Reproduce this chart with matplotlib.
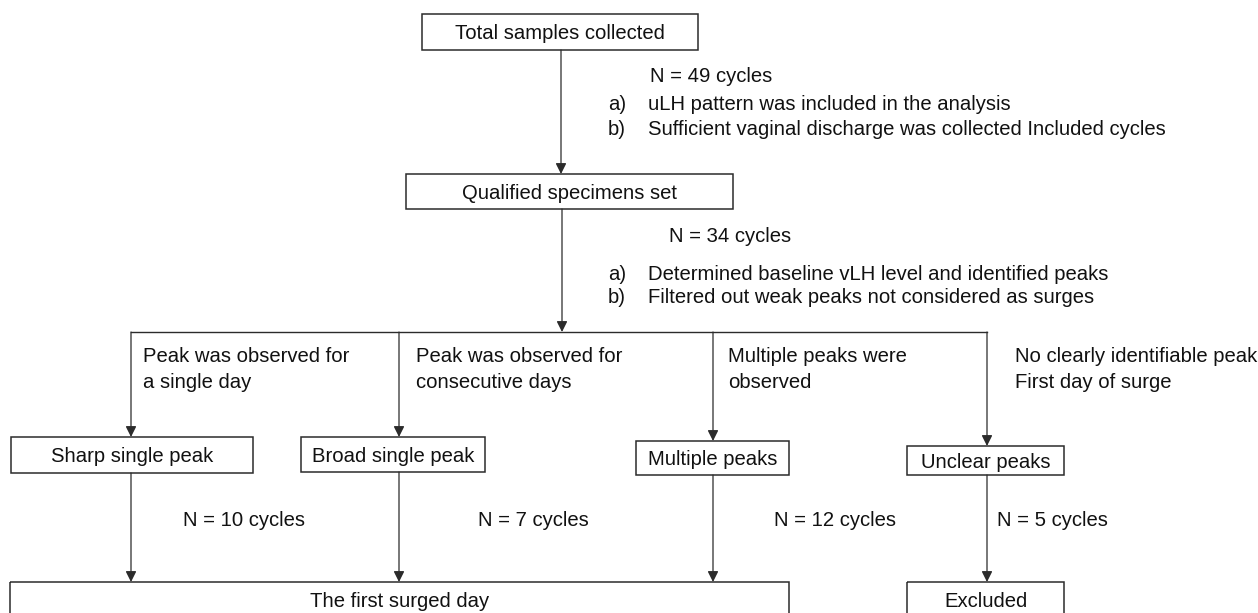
import matplotlib
matplotlib.use('Agg')
from matplotlib import pyplot as plt
from matplotlib.patches import Rectangle

plt.rcParams['font.family'] = ['Liberation Sans', 'DejaVu Sans']

# node labels
top_labels = ['Total samples collected', 'Qualified specimens set']
group_labels = ['Sharp single peak', 'Broad single peak', 'Multiple peaks', 'Unclear peaks']
end_labels = ['The first surged day', 'Excluded']

# step notes
step_counts = ['N = 49 cycles', 'N = 34 cycles']
step_criteria = [
    ['uLH pattern was included in the analysis',
     'Sufficient vaginal discharge was collected Included cycles'],
    ['Determined baseline vLH level and identified peaks',
     'Filtered out weak peaks not considered as surges'],
]
branch_notes = [
    ['Peak was observed for', 'a single day'],
    ['Peak was observed for', 'consecutive days'],
    ['Multiple peaks were', 'observed'],
    ['No clearly identifiable peak', 'First day of surge'],
]
group_counts = ['N = 10 cycles', 'N = 7 cycles', 'N = 12 cycles', 'N = 5 cycles']

# layout (pixel coordinates, y down)
W, H = 1258, 613
LC = '#2b2b2b'
TC = '#111111'
FS = 14.6
BL = 7.3  # baseline offset below visual centre

top_boxes = [(422, 698, 14, 50), (406, 733, 174, 209)]
group_boxes = [(11, 253, 437, 473), (301, 485, 437, 472),
               (636, 789, 441, 475), (907, 1064, 446, 475)]
arrow_x = [131, 399, 713, 987]
end_boxes = [(10, 789, 582, 640), (907, 1064, 582, 640)]
branch_y = 332

fig = plt.figure(figsize=(W / 100, H / 100), dpi=100)
ax = fig.add_axes([0, 0, 1, 1])
ax.set_xlim(0, W)
ax.set_ylim(H, 0)
ax.axis('off')


def label(x, y, s, ha='left'):
    ax.text(x, y + BL, s, ha=ha, va='baseline', fontsize=FS, color=TC)


def box(b, s):
    x0, x1, y0, y1 = b
    ax.add_patch(Rectangle((x0, y0), x1 - x0, y1 - y0, fill=False,
                           edgecolor=LC, lw=1.1))
    yc = (y0 + y1) / 2 if y1 < H else 600
    label((x0 + x1) / 2, yc, s, ha='center')


def arrow(x, y0, y1):
    ax.annotate('', xy=(x, y1), xytext=(x, y0),
                arrowprops=dict(arrowstyle='-|>', color=LC, lw=0.9,
                                mutation_scale=16, shrinkA=0, shrinkB=0))


for b, s in zip(top_boxes, top_labels):
    box(b, s)
for b, s in zip(group_boxes, group_labels):
    box(b, s)
for b, s in zip(end_boxes, end_labels):
    box(b, s)

# top chain
arrow(561, top_boxes[0][3], top_boxes[1][2])
arrow(562, top_boxes[1][3], branch_y)
ax.plot([arrow_x[0], arrow_x[-1]], [branch_y, branch_y], color=LC, lw=1.0)

count_pos = [(650, 75), (669, 234.5)]
crit_y = [(103, 128), (272.5, 296)]
for (cx, cy), txt in zip(count_pos, step_counts):
    label(cx, cy, txt)
for ys, crits in zip(crit_y, step_criteria):
    for y, letter, c in zip(ys, ['a)', 'b)'], crits):
        label(608, y, letter)
        label(648, y, c)

# branches
note_x = [143, 416, 728, 1015]
count_x = [183, 478, 774, 997]
for i in range(4):
    x = arrow_x[i]
    gb = group_boxes[i]
    arrow(x, branch_y, gb[2])
    for k, line in enumerate(branch_notes[i]):
        label(note_x[i], 355 + 26 * k, line)
    end = end_boxes[1] if i == 3 else end_boxes[0]
    arrow(x, gb[3], end[2])
    label(count_x[i], 519, group_counts[i])

fig.savefig('out.png', dpi=100)
